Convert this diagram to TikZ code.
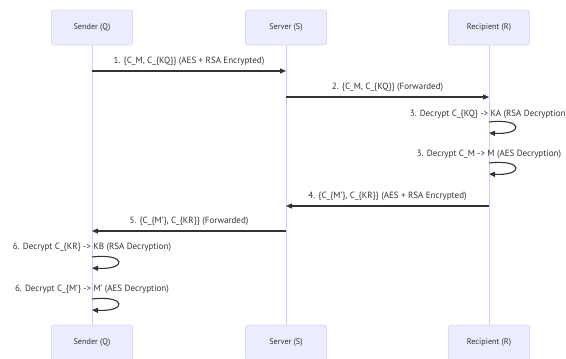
\documentclass[tikz,border=0pt]{standalone}
\usepackage{fontspec}
\setmainfont{PT Sans}
\usetikzlibrary{arrows.meta}
\definecolor{actorfill}{HTML}{ECECFF}
\definecolor{actorline}{HTML}{DCD6F7}
\definecolor{lifeline}{HTML}{D4CCF6}
\definecolor{msgline}{HTML}{333333}
\tikzset{
  actor/.style={rectangle, rounded corners=2pt, fill=actorfill, draw=actorline,
    line width=0.6pt, minimum width=81pt, minimum height=35pt, inner sep=0pt,
    font=\fontsize{8.2}{10}\selectfont, text=msgline},
  life/.style={draw=lifeline, line width=0.9pt},
  msg/.style={draw=msgline, line width=1.1pt, -{Triangle[length=6pt,width=5pt]}},
  msglabel/.style={font=\fontsize{9}{11}\selectfont, text=msgline, inner sep=0pt},
}
\begin{document}
\begin{tikzpicture}[x=1pt, y=-1pt]
\useasboundingbox (0,0) rectangle (566,359);
\clip (0,0) rectangle (566,359);

% participants, top and bottom
\node[actor] (qTop) at (92,27.5) {Sender (Q)};
\node[actor] (sTop) at (286,27.5) {Server (S)};
\node[actor] (rTop) at (489,27.5) {Recipient (R)};
\node[actor] (qBot) at (92,342.5) {Sender (Q)};
\node[actor] (sBot) at (286,342.5) {Server (S)};
\node[actor] (rBot) at (489,342.5) {Recipient (R)};

% lifelines
\draw[life] (qTop) -- (qBot);
\draw[life] (sTop) -- (sBot);
\draw[life] (rTop) -- (rBot);

% message anchors on the lifelines
\coordinate (q1) at (92,71);   \coordinate (s1) at (286,71);
\coordinate (s2) at (286,97);  \coordinate (r2) at (489,97);
\coordinate (r4) at (489,206); \coordinate (s4) at (286,206);
\coordinate (s5) at (286,231); \coordinate (q5) at (92,231);

% messages
\draw[msg] (q1) -- (s1);
\node[msglabel] (l1) at (189,61) {1. \{C\_M, C\_\{KQ\}\} (AES + RSA Encrypted)};
\draw[msg] (s2) -- (r2);
\node[msglabel] (l2) at (387.5,87) {2. \{C\_M, C\_\{KQ\}\} (Forwarded)};
\draw[msg] (r4) -- (s4);
\node[msglabel] (l4) at (387.5,196) {4. \{C\_\{M'\}, C\_\{KR\}\} (AES + RSA Encrypted)};
\draw[msg] (s5) -- (q5);
\node[msglabel] (l5) at (189,221) {5. \{C\_\{M'\}, C\_\{KR\}\} (Forwarded)};

% self messages
\node[msglabel] (t3a) at (489,114) {3. Decrypt C\_\{KQ\} -> KA (RSA Decryption)};
\coordinate (r3aa) at (489,122); \coordinate (r3ab) at (489,133);
\draw[msg] (r3aa) .. controls (524,118) and (524,135) .. (r3ab);

\node[msglabel] (t3b) at (489,154) {3. Decrypt C\_M -> M (AES Decryption)};
\coordinate (r3ba) at (489,163); \coordinate (r3bb) at (489,174);
\draw[msg] (r3ba) .. controls (524,159) and (524,176) .. (r3bb);

\node[msglabel] (t6a) at (92,247) {6. Decrypt C\_\{KR\} -> KB (RSA Decryption)};
\coordinate (q6aa) at (92,257); \coordinate (q6ab) at (92,268);
\draw[msg] (q6aa) .. controls (127,253) and (127,270) .. (q6ab);

\node[msglabel] (t6b) at (92,289) {6. Decrypt C\_\{M'\} -> M' (AES Decryption)};
\coordinate (q6ba) at (92,299); \coordinate (q6bb) at (92,310);
\draw[msg] (q6ba) .. controls (127,295) and (127,312) .. (q6bb);
\end{tikzpicture}
\end{document}
